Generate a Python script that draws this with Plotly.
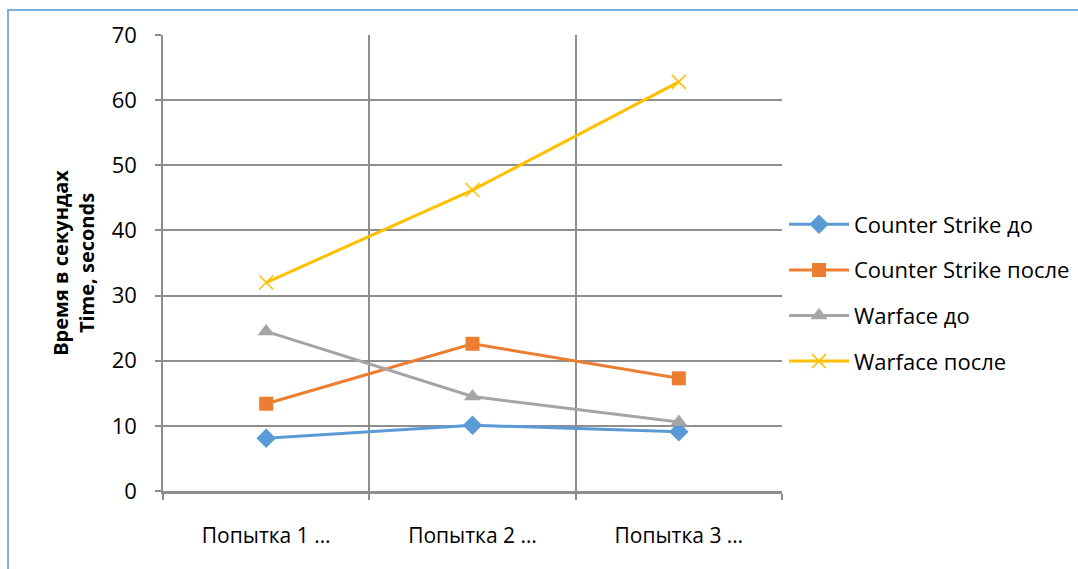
import plotly.graph_objects as go

categories = ["Попытка 1 …", "Попытка 2 …", "Попытка 3 …"]
cs_before = [8.1, 10.1, 9.1]
cs_after = [13.4, 22.6, 17.3]
wf_before = [24.5, 14.5, 10.6]
wf_after = [32.0, 46.2, 62.8]

series = [
    ("Counter Strike до", cs_before, "#5B9BD5", "diamond", 15),
    ("Counter Strike после", cs_after, "#ED7D31", "square", 14),
    ("Warface до", wf_before, "#A5A5A5", "triangle-up", 15),
    ("Warface после", wf_after, "#FFC000", "x-thin", 14),
]

W, H = 1078, 569
L, R, T, B = 163, 782, 35, 491
pw, ph = R - L, B - T

fig = go.Figure()
for i, (name, vals, col, sym, sz) in enumerate(series):
    fig.add_trace(go.Scatter(
        x=categories, y=vals, name=name, mode="lines+markers",
        line=dict(color=col, width=3),
        marker=dict(symbol=sym, size=sz, color=col,
                    line=dict(color=col, width=1.5 if sym == "x-thin" else 0)),
        legendgroup=str(i),
    ))

grid = "#8e8e8e"
font = "'Open Sans', 'Noto Sans', sans-serif"
fig.update_layout(
    width=W, height=H,
    margin=dict(l=L, r=W - R, t=T, b=H - B, autoexpand=False),
    paper_bgcolor="white", plot_bgcolor="white",
    font=dict(family=font, size=20, color="#000000"),
    showlegend=True,
    legend=dict(xref="container", yref="container",
                x=784 / W, xanchor="left", y=1 - 293 / H, yanchor="middle",
                font=dict(size=22), tracegroupgap=14, itemwidth=60,
                bgcolor="rgba(0,0,0,0)"),
    xaxis=dict(type="category", range=[-0.5, 2.5], tickson="boundaries",
               showgrid=True, gridcolor=grid, gridwidth=1.6, showline=True,
               linecolor=grid, linewidth=2.5, ticks="outside", ticklen=6,
               tickwidth=1.5, tickcolor=grid, mirror=False, zeroline=False,
               tickfont=dict(size=21), ticklabelstandoff=24),
    yaxis=dict(range=[0, 70], dtick=10, showgrid=True, gridcolor=grid,
               gridwidth=1.6, showline=True, linecolor=grid, linewidth=1.6,
               ticks="outside", ticklen=6, tickwidth=1.5, tickcolor=grid,
               zeroline=False,
               tickfont=dict(size=22), ticklabelstandoff=14,
               title=dict(text="<b>Время в секундах<br>Time, seconds</b>",
                          font=dict(size=20), standoff=12)),
)

# outer chart border (light blue)
fig.add_shape(type="rect", xref="paper", yref="paper",
              x0=(8 - L) / pw, x1=(W + 30 - L) / pw,
              y0=(B - (H + 30)) / ph, y1=(B - 10) / ph,
              line=dict(color="#7FAEDC", width=2), fillcolor="rgba(0,0,0,0)",
              layer="below")

fig.write_html("out.html")
